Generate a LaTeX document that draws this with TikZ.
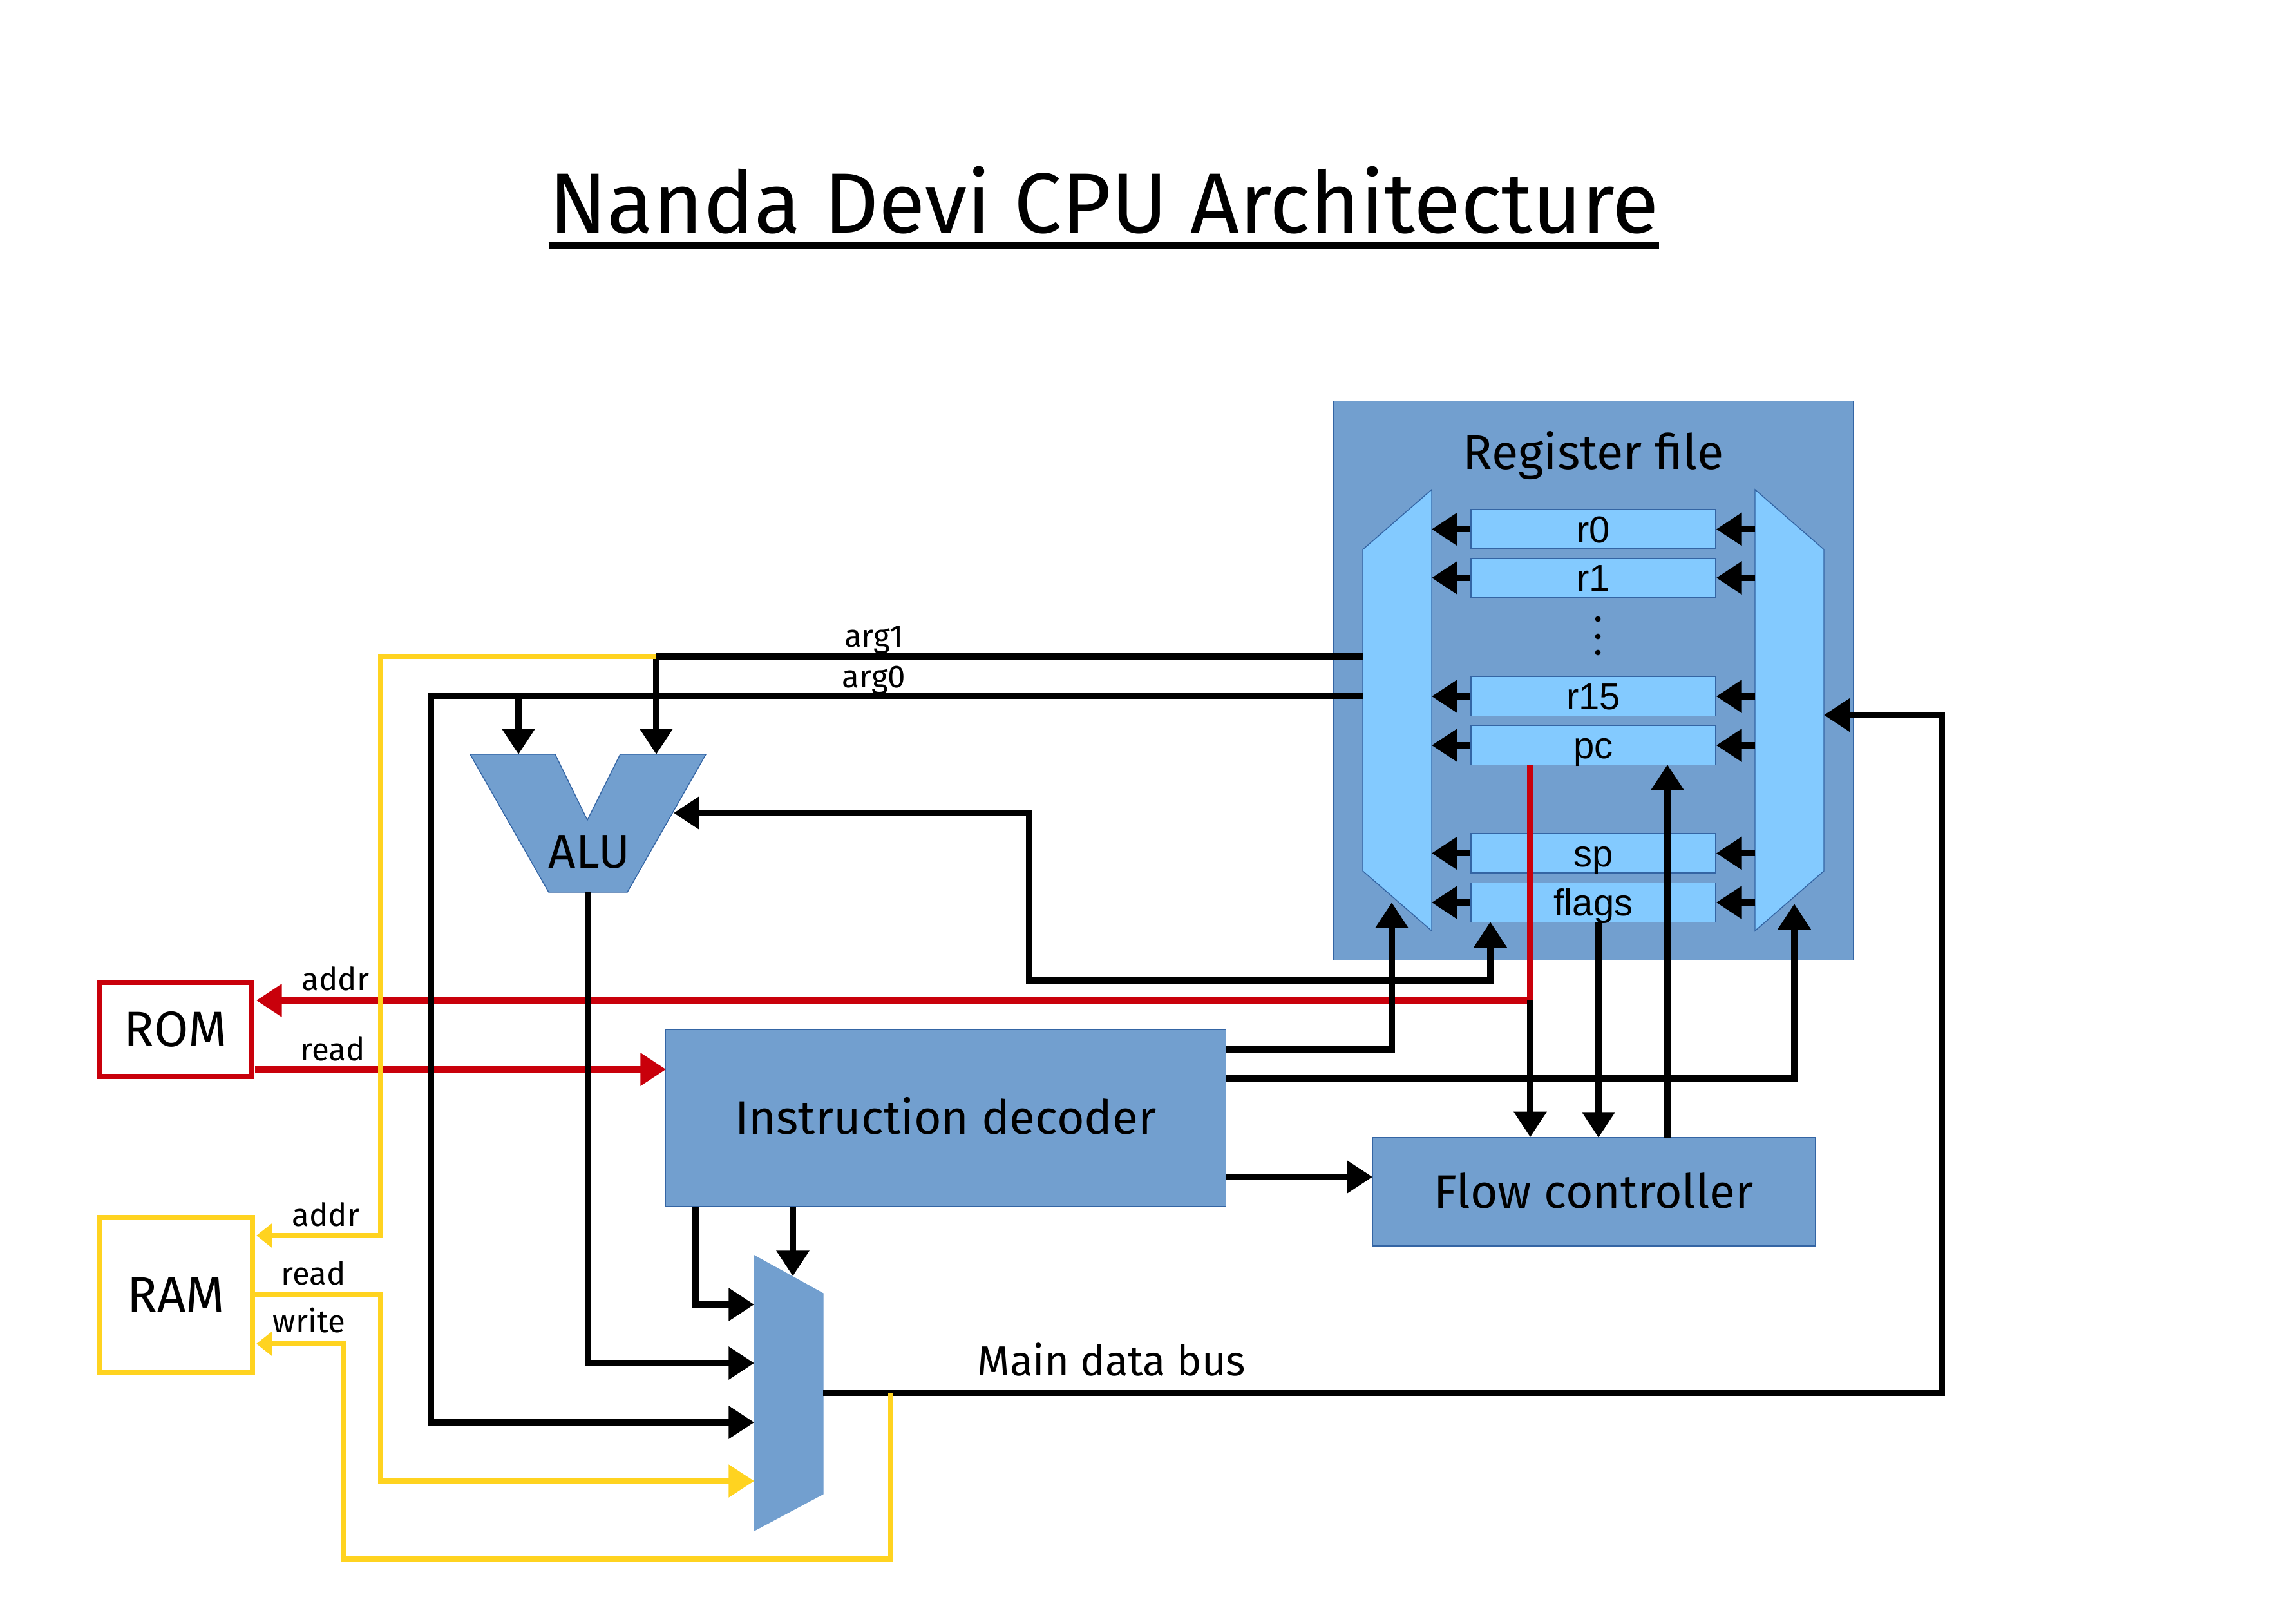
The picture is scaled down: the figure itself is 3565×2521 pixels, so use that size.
\documentclass[tikz,border=0pt]{standalone}
\usepackage{fontspec}
\setmainfont{Fira Sans}
\newfontfamily\regfont{Liberation Sans}
\usetikzlibrary{arrows.meta}
\definecolor{cblue}{HTML}{729FCF}
\definecolor{clight}{HTML}{83CAFF}
\definecolor{cedge}{HTML}{3465A4}
\definecolor{cred}{HTML}{C9000B}
\definecolor{cyel}{HTML}{FFD320}
\begin{document}
\begin{tikzpicture}[x=0.01cm,y=-0.01cm,
  bk/.style={line width=2.6pt, black},
  rd/.style={line width=2.7pt, cred},
  yl/.style={line width=2.3pt, cyel},
  tip/.style={-{Triangle[length=11.3pt,width=14pt]}},
  tipboth/.style={{Triangle[length=11.3pt,width=14pt]}-{Triangle[length=11.3pt,width=14pt]}},
  smalltip/.style={-{Triangle[length=7pt,width=10.5pt]}},
  mx/.style={draw=cedge, line width=0.4pt},
  blk/.style={draw=cedge, line width=0.4pt, fill=cblue, inner sep=0pt,
    font=\fontsize{20.8}{24}\selectfont, text height=14.3pt, text depth=0pt},
  reg/.style={draw=cedge, line width=0.4pt, fill=clight, inner sep=0pt,
    minimum width=3.8cm, minimum height=0.61cm,
    font=\regfont\fontsize{16.5}{18}\selectfont, text height=11.8pt, text depth=0pt},
  mem/.style={line width=2.4pt, fill=white, inner sep=0pt,
    minimum width=2.37cm, font=\fontsize{22}{24}\selectfont, text height=15.2pt, text depth=0pt},
  lbl/.style={font=\fontsize{14}{16}\selectfont, anchor=base, inner sep=0pt}
]
\path[use as bounding box] (0,0) rectangle (3565,2521);

% title
\node[font=\fontsize{37.7}{42}\selectfont, anchor=base, inner sep=0pt] (title) at (1714,361) {Nanda Devi CPU Architecture};
\coordinate (ul) at (0,381);
\draw[line width=2.8pt] (title.west |- ul) -- (title.east |- ul);

% register file
\node[blk, minimum width=8.06cm, minimum height=8.67cm] (rf) at (2474,1056.5) {};
\node[font=\fontsize{21.5}{24}\selectfont, anchor=base, inner sep=0pt] (rft) at (2474,728) {Register file};

% left and right register muxes
\path[mx, fill=clight] (2223,760) coordinate (lm1) -- (2223,1445) coordinate (lm2) -- (2116,1352) coordinate (lm3) -- (2116,853) coordinate (lm4) -- cycle;
\path[mx, fill=clight] (2725,760) coordinate (rm1) -- (2832,853) coordinate (rm2) -- (2832,1352) coordinate (rm3) -- (2725,1445) coordinate (rm4) -- cycle;

% registers
\foreach \n/\yy in {r0/821.5, r1/897, r15/1081, pc/1157, sp/1324.5, flags/1401}
  \node[reg] (\n) at (2474,\yy) {\n};
\foreach \n in {r0,r1,r15,pc,sp,flags} {
  \draw[bk, tip] (\n.west) -- (\n.west -| lm1);
  \draw[bk, tip] (\n.east -| rm1) -- (\n.east);
}
\foreach \yy in {961,988,1013}
  \fill (2481,\yy) circle[radius=1.25pt];

% ALU
\path[mx, fill=cblue] (730,1171) -- (862,1171) -- (912,1273) -- (963,1171) -- (1096,1171) -- (974,1385) -- (852,1385) -- cycle;
\node[font=\fontsize{21}{24}\selectfont, anchor=base, inner sep=0pt] (alu) at (915,1347) {ALU};
\coordinate (aluL) at (805,1171);
\coordinate (aluR) at (1019,1171);
\coordinate (aluIn) at (1046,1262);
\coordinate (aluO) at (913,1385);

% main mux
\path[mx, draw=cblue, fill=cblue] (1171,1949) -- (1278,2008) -- (1278,2319) -- (1171,2376) -- cycle;
\coordinate (muxI1) at (1171,2025);
\coordinate (muxI2) at (1171,2116);
\coordinate (muxI3) at (1171,2208);
\coordinate (muxI4) at (1171,2299);
\coordinate (muxT) at (1231,1981);
\coordinate (muxO) at (1278,2162);

% boxes
\node[blk, minimum width=8.69cm, minimum height=2.75cm] (dec) at (1468.5,1735.5) {Instruction decoder};
\node[blk, minimum width=6.87cm, minimum height=1.68cm] (fc) at (2474.5,1850) {Flow controller};
\node[mem, draw=cred, minimum height=1.46cm] (rom) at (272.5,1598) {ROM};
\node[mem, draw=cyel, minimum height=2.40cm] (ram) at (273.5,2010) {RAM};

% ports
\coordinate (lmA1) at (2116,1019);
\coordinate (lmA0) at (2116,1080);
\coordinate (j1) at (1019,1019);
\coordinate (j0) at (805,1080);
\coordinate (flgIn) at (2314,1431);
\coordinate (pcOut) at (2376,1187);
\coordinate (pcJ) at (2376,1553);
\coordinate (romA) at (398,1553);
\coordinate (romR) at (396,1660);
\coordinate (decIn) at (1034,1660);
\coordinate (ramA) at (398,1918);
\coordinate (ramR) at (396,2010);
\coordinate (ramW) at (398,2086);
\coordinate (busJ) at (1383,2162);

% red
\draw[rd, tip] (pcOut) -- (pcJ) -- (romA);
\draw[rd, tip] (romR) -- (decIn);

% black
\draw[bk] (lmA1) -- (j1);
\draw[bk, tip] (j1) -- (aluR);
\draw[bk, tip] (lmA0) -- (669,1080) -- (669,2208) -- (muxI3);
\draw[bk, tip] (j0) -- (aluL);
\draw[bk, tip] (aluO) -- (913,2116) -- (muxI2);
\draw[bk, tipboth] (flgIn) -- (2314,1522) -- (1598,1522) -- (1598,1262) -- (aluIn);
\draw[bk, tip] (pcJ) -- (fc.north -| pcJ);
\draw[bk, tip] (2482,1431) -- (2482,1766);
\draw[bk, tip] (2589,1766) -- (2589,1187);
\draw[bk, tip] (1903,1629) -- (2161,1629) -- (2161,1401);
\draw[bk, tip] (1903,1674) -- (2786,1674) -- (2786,1403);
\draw[bk, tip] (1903,1827) -- (2131,1827);
\draw[bk, tip] (1080,1873) -- (1080,2025) -- (muxI1);
\draw[bk, tip] (1231,1873) -- (muxT);
\draw[bk, tip] (muxO) -- (3015,2162) -- (3015,1110) -- (2832,1110);

% yellow
\draw[yl, smalltip] (j1) -- (591,1019) -- (591,1918) -- (ramA);
\draw[yl, tip] (ramR) -- (591,2010) -- (591,2299) -- (muxI4);
\draw[yl, smalltip] (busJ) -- (1383,2420) -- (533,2420) -- (533,2086) -- (ramW);

% labels
\node[lbl] (larg1) at (1357,1004) {arg1};
\node[lbl] (larg0) at (1357,1067) {arg0};
\node[lbl] (lromA) at (521,1537) {addr};
\node[lbl] (lromR) at (517,1646) {read};
\node[lbl] (lramA) at (506,1903) {addr};
\node[lbl] (lramR) at (487,1994) {read};
\node[lbl] (lramW) at (480,2068) {write};
\node[font=\fontsize{18.5}{21}\selectfont, anchor=base, inner sep=0pt] (lbus) at (1726,2135) {Main data bus};
\end{tikzpicture}
\end{document}
